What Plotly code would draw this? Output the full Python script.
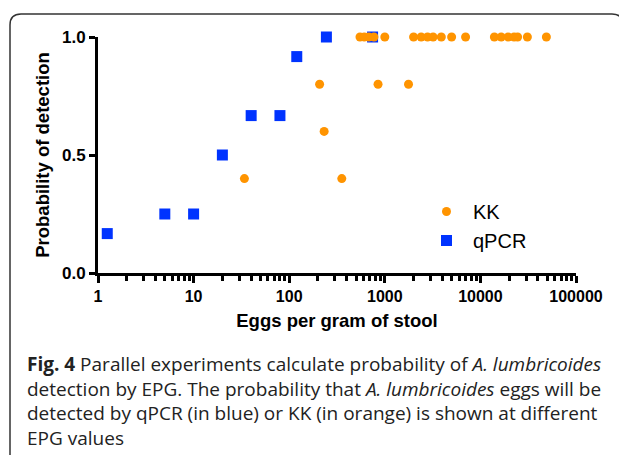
import plotly.graph_objects as go

# ---- data ----
qpcr_epg = [1.25, 5, 10, 20, 40, 80, 120, 245, 745]
qpcr_prob = [0.167, 0.25, 0.25, 0.5, 0.667, 0.667, 0.917, 1.0, 1.0]

kk_epg = [34, 355, 232, 208, 850, 1770,
          550, 610, 680, 770, 1000, 2000, 2400, 2800, 3200, 3900, 5000, 7000,
          14000, 16500, 19500, 22500, 24500, 31000, 49000]
kk_prob = [0.4, 0.4, 0.6, 0.8, 0.8, 0.8,
           1.0, 1.0, 1.0, 1.0, 1.0, 1.0, 1.0, 1.0, 1.0, 1.0, 1.0, 1.0,
           1.0, 1.0, 1.0, 1.0, 1.0, 1.0, 1.0]

x_tickvals = [1, 10, 100, 1000, 10000, 100000]
x_ticktext = ["1", "10", "100", "1000", "10000", "100000"]
y_tickvals = [0.0, 0.5, 1.0]
minor_vals = [m * d for d in [1, 10, 100, 1000, 10000] for m in range(2, 10)]

caption_lines = [
    "<b>Fig. 4</b> Parallel experiments calculate probability of <i>A. lumbricoides</i>",
    "detection by EPG. The probability that <i>A. lumbricoides</i> eggs will be",
    "detected by qPCR (in blue) or KK (in orange) is shown at different",
    "EPG values",
]

# ---- layout geometry (page pixels; the page body has an 8px margin) ----
OFF = 8
W, H = 627 - OFF, 455 - OFF
PX_LEFT, PX_RIGHT, PX_TOP, PX_BOTTOM = 98, 576, 37, 273  # plot area in page px
L = PX_LEFT - OFF
T = PX_TOP - OFF
PW = PX_RIGHT - PX_LEFT
PH = PX_BOTTOM - PX_TOP
R = W - L - PW
B = H - T - PH

def px(x):
    return (x - PX_LEFT) / PW

def py(y):
    return (PX_BOTTOM - y) / PH

BLUE = "#0033FF"
ORANGE = "#FF9400"
AXFONT = "Liberation Sans, Arial, sans-serif"

fig = go.Figure()
fig.add_trace(go.Scatter(
    x=qpcr_epg, y=qpcr_prob, mode="markers", name="qPCR", legendrank=2,
    legendgroup="q",
    marker=dict(symbol="square", size=11, color=BLUE), cliponaxis=False))
fig.add_trace(go.Scatter(
    x=kk_epg, y=kk_prob, mode="markers", name="KK", legendrank=1,
    legendgroup="k",
    marker=dict(symbol="circle", size=9, color=ORANGE), cliponaxis=False))

fig.update_layout(
    width=W, height=H, autosize=False,
    margin=dict(l=L, r=R, t=T, b=B, pad=0),
    paper_bgcolor="white", plot_bgcolor="white",
    font=dict(family=AXFONT, color="black"),
    showlegend=True,
    legend=dict(x=px(420), y=py(192), xanchor="left", yanchor="top",
                font=dict(size=20, family=AXFONT), bgcolor="rgba(0,0,0,0)",
                itemwidth=43, tracegroupgap=0),
)

fig.update_xaxes(
    type="log", range=[0, 5], showgrid=False, zeroline=False,
    showline=True, linecolor="black", linewidth=3,
    tickmode="array", tickvals=x_tickvals, ticktext=x_ticktext,
    ticks="outside", ticklen=7, tickwidth=2.5, tickcolor="black",
    tickfont=dict(size=16, family=AXFONT, weight="bold"),
    minor=dict(tickmode="array", tickvals=minor_vals, ticks="outside",
               ticklen=5, tickwidth=2.5, tickcolor="black", showgrid=False),
    title=dict(text="Eggs per gram of stool",
               font=dict(size=18.5, family=AXFONT, weight="bold"), standoff=10),
)
fig.update_yaxes(
    range=[0, 1], showgrid=False, zeroline=False,
    showline=True, linecolor="black", linewidth=3,
    tickmode="array", tickvals=y_tickvals, tickformat=".1f",
    ticks="outside", ticklen=6, tickwidth=2.5, tickcolor="black",
    tickfont=dict(size=17, family=AXFONT, weight="bold"),
    title=dict(text="Probability of detection",
               font=dict(size=18.5, family=AXFONT, weight="bold"), standoff=8),
)

# caption (one multi-line annotation)
fig.add_annotation(text="<br>".join(caption_lines), xref="paper", yref="paper",
                   x=px(25), y=py(349), xanchor="left", yanchor="top",
                   align="left", showarrow=False,
                   font=dict(size=19, family="Open Sans, sans-serif", color="#222"))

# rounded border
x0, y0, x1, y1, r = 10, 14, 623, 480, 11
path = (f"M {px(x0)},{py(y1)} L {px(x0)},{py(y0 + r)} "
        f"Q {px(x0)},{py(y0)} {px(x0 + r)},{py(y0)} "
        f"L {px(x1 - r)},{py(y0)} Q {px(x1)},{py(y0)} {px(x1)},{py(y0 + r)} "
        f"L {px(x1)},{py(y1)}")
fig.add_shape(type="path", path=path, xref="paper", yref="paper",
              line=dict(color="#333", width=1.5), layer="below")

fig.write_html("out.html")
